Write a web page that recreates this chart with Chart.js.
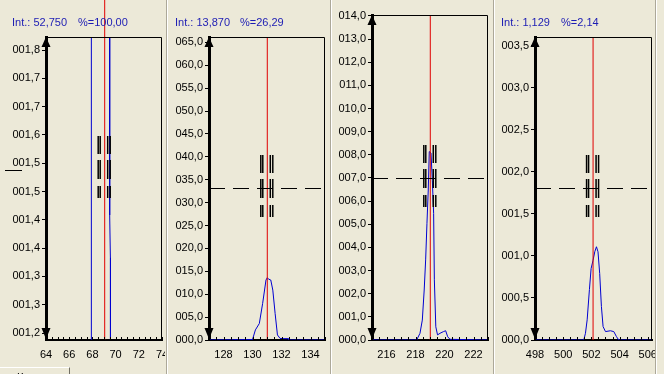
<!DOCTYPE html>
<html>
<head>
<meta charset="utf-8">
<script src="https://cdn.jsdelivr.net/npm/chart.js@4.4.1/dist/chart.umd.min.js"></script>
<style>
    body { margin: 0; width: 664px; height: 374px; background: #ece9d8; overflow: hidden; position: relative; font-family: "Liberation Sans", Arial, sans-serif; }
    canvas { position: absolute; top: 0; }
    .sep { position: absolute; top: 0; width: 1px; height: 374px; background: #aca899; box-shadow: 1px 0 0 #fff; }
    .tab { position: absolute; left: -2px; top: 367px; width: 71px; height: 20px; border-top: 1px solid #fff; border-right: 1px solid #716f64; font-size: 11px; }
    .tab span { position: absolute; left: 19px; top: 3px; }
</style>
</head>
<body>
<canvas id="p1" width="165" height="374" style="left:0"></canvas>
<div class="sep" style="left:166px"></div>
<canvas id="p2" width="162" height="374" style="left:167px"></canvas>
<div class="sep" style="left:330px"></div>
<canvas id="p3" width="161" height="374" style="left:331px"></canvas>
<div class="sep" style="left:493px"></div>
<canvas id="p4" width="161" height="374" style="left:494px"></canvas>
<div class="sep" style="left:655px"></div>
<div class="tab"><span>К</span></div>

<script>
// ---- panel 1: m/z 64..74 (zoomed intensity window) ----
const p1X = [64, 67.9, 67.91, 69.46, 69.49, 69.55, 69.56, 74];
const p1Y = [0, 0, 60, 60, 1.45, 1.36, 0, 0];
const p1YTicks = [1.2, 1.26, 1.32, 1.38, 1.44, 1.5, 1.56, 1.62, 1.68, 1.74, 1.8];
const p1YLabels = ['001,2', '001,3', '001,3', '001,4', '001,4', '001,5', '001,5', '001,6', '001,7', '001,7', '001,8'];
const p1XTicks = [64, 66, 68, 70, 72, 74];
const p1Header = ['Int.: 52,750', '%=100,00'];

// ---- panel 2: m/z 127..135 ----
const p2X = [127, 130.0, 130.2, 130.47, 130.7, 130.93, 131.02, 131.1, 131.26, 131.4, 131.56, 131.72, 131.9, 132.1, 132.47, 132.5, 135];
const p2Y = [0, 0.1, 2.2, 3.6, 8.0, 13.1, 13.6, 13.3, 13.1, 10.9, 5.8, 1.1, 0.35, 0.3, 0.3, 0, 0];
const p2YTicks = [0, 5, 10, 15, 20, 25, 30, 35, 40, 45, 50, 55, 60, 65];
const p2XTicks = [128, 130, 132, 134];
const p2Header = ['Int.: 13,870', '%=26,29'];

// ---- panel 3: m/z 215..223 ----
const p3X = [215, 218.08, 218.31, 218.47, 218.6, 218.7, 218.79, 218.88, 218.95, 219.07, 219.16, 219.25, 219.3, 219.4, 219.52, 219.69, 219.92, 220.08, 220.22, 220.38, 223];
const p3Y = [0, 0, 0.29, 0.86, 2.16, 3.46, 5.04, 6.48, 8.14, 8.08, 6.9, 5.47, 2.6, 0.57, 0.22, 0.29, 0.36, 0.4, 0.14, 0.03, 0];
const p3YTicks = [0, 1, 2, 3, 4, 5, 6, 7, 8, 9, 10, 11, 12, 13, 14];
const p3XTicks = [216, 218, 220, 222];

// ---- panel 4: m/z 498..506 ----
const p4X = [498, 501.46, 501.58, 501.7, 501.86, 501.98, 502.12, 502.24, 502.36, 502.47, 502.59, 502.71, 502.83, 503.0, 503.35, 503.59, 503.78, 503.94, 506.3];
const p4Y = [0, 0, 0.08, 0.24, 0.6, 0.85, 0.95, 1.05, 1.11, 1.05, 0.79, 0.4, 0.16, 0.1, 0.11, 0.1, 0.04, 0, 0];
const p4YTicks = [0, 0.5, 1, 1.5, 2, 2.5, 3, 3.5];
const p4XTicks = [498, 500, 502, 504, 506];
const p4Header = ['Int.: 1,129', '%=2,14'];

const FONT = '"Liberation Sans", Arial, sans-serif';

function fmt(v) {
    return v.toFixed(1).replace('.', ',').padStart(5, '0');
}

// crosshair / axis decorations drawn on top of the chart
const decoPlugin = {
    id: 'deco',
    afterDatasetsDraw(chart) {
        const o = chart.options.plugins.deco;
        const ctx = chart.ctx;
        const a = chart.chartArea;
        const sx = chart.scales.x, sy = chart.scales.y;
        const cx = sx.getPixelForValue(o.cursorX);
        const cy = Math.round(sy.getPixelForValue(o.cursorY));
        ctx.save();
        ctx.strokeStyle = '#000';
        ctx.fillStyle = '#000';

        // top and right frame
        ctx.lineWidth = 1;
        ctx.beginPath();
        ctx.moveTo(a.left, a.top + 0.5);
        ctx.lineTo(a.right - 0.5, a.top + 0.5);
        ctx.lineTo(a.right - 0.5, a.bottom);
        ctx.stroke();

        // dashed horizontal cursor line
        if (o.dashed) {
            ctx.setLineDash([16, 8]);
            ctx.beginPath();
            ctx.moveTo(a.left, cy + 0.5);
            ctx.lineTo(a.right, cy + 0.5);
            ctx.stroke();
            ctx.setLineDash([]);
        }

        // minor ticks on x axis
        sx.ticks.forEach(t => {
            const px = Math.round(sx.getPixelForValue(t.value)) + 0.5;
            ctx.beginPath();
            ctx.moveTo(px, a.bottom);
            ctx.lineTo(px, a.bottom - 3);
            ctx.stroke();
        });

        // arrows on the y axis
        const ax = a.left;
        ctx.beginPath();
        ctx.moveTo(ax, a.top);
        ctx.lineTo(ax - 4.5, a.top + 10);
        ctx.lineTo(ax + 4.5, a.top + 10);
        ctx.closePath();
        ctx.fill();
        ctx.beginPath();
        ctx.moveTo(ax, a.bottom - 1);
        ctx.lineTo(ax - 4.5, a.bottom - 12);
        ctx.lineTo(ax + 4.5, a.bottom - 12);
        ctx.closePath();
        ctx.fill();

        // cursor glyph
        ctx.lineWidth = 1.5;
        [[-33, -15], [-9, 10], [17, 29]].forEach(r => {
            [-6.5, -4.5, 3, 5.5].forEach(dx => {
                ctx.beginPath();
                ctx.moveTo(cx + dx, cy + r[0]);
                ctx.lineTo(cx + dx, cy + r[1]);
                ctx.stroke();
            });
        });
        if (o.stub) {
            ctx.lineWidth = 1;
            ctx.beginPath();
            ctx.moveTo(5, cy + 1.5);
            ctx.lineTo(22, cy + 1.5);
            ctx.stroke();
        }

        // header
        if (o.header) {
            ctx.fillStyle = '#1c1cb4';
            ctx.font = '11px ' + FONT;
            ctx.textBaseline = 'middle';
            ctx.fillText(o.header[0], o.headerX[0], 23);
            ctx.fillText(o.header[1], o.headerX[1], 23);
        }
        ctx.restore();
    }
};

function makePanel(p) {
    const canvas = document.getElementById(p.id);
    const datasets = [
        {
            data: [{ x: p.cursorX, y: p.yMin }, { x: p.cursorX, y: p.redTop }],
            borderColor: '#e00000', borderWidth: 1, clip: p.redClip
        },
        {
            data: p.xs.map((x, i) => ({ x: x, y: p.ys[i] })),
            borderColor: '#0000d0', borderWidth: 1
        }
    ];
    new Chart(canvas.getContext('2d'), {
        type: 'line',
        data: { datasets: datasets },
        options: {
            responsive: false,
            animation: false,
            elements: { point: { radius: 0 }, line: { tension: 0 } },
            layout: { padding: { left: 0, right: canvas.width - p.right, top: p.top, bottom: 0 } },
            plugins: {
                legend: { display: false },
                tooltip: { enabled: false },
                deco: { cursorX: p.cursorX, cursorY: p.cursorY, dashed: p.dashed, header: p.header, headerX: p.headerX, stub: p.stub }
            },
            scales: {
                x: {
                    type: 'linear', min: p.xMin, max: p.xMax,
                    border: { color: '#000', width: 2 },
                    grid: { drawOnChartArea: false, drawTicks: false },
                    ticks: {
                        color: '#000', font: { family: FONT, size: 11 }, padding: 8,
                        autoSkip: false, maxRotation: 0,
                        callback: v => p.xTicks.some(t => Math.abs(t - v) < 1e-6) ? String(Math.round(v)) : ''
                    },
                    afterBuildTicks: s => {
                        const out = [];
                        for (let v = Math.ceil(p.xMin * 2) / 2; v <= p.xMax + 1e-9; v += 0.5) out.push({ value: v });
                        s.ticks = out;
                    },
                    afterFit: s => { s.height = 374 - 340; s.paddingLeft = 0; s.paddingRight = 0; }
                },
                y: {
                    type: 'linear', min: p.yMin, max: p.yMax,
                    border: { color: '#000', width: 3 },
                    grid: { drawOnChartArea: false, drawTicks: true, tickLength: 4, color: '#000' },
                    ticks: {
                        color: '#000', font: { family: FONT, size: 11 }, padding: 2,
                        callback: (v, i) => p.yLabels ? p.yLabels[i] : fmt(v)
                    },
                    afterBuildTicks: s => { s.ticks = p.yTicks.map(v => ({ value: v })); },
                    afterFit: s => { s.width = p.left; s.paddingTop = 0; s.paddingBottom = 0; }
                }
            }
        },
        plugins: [decoPlugin]
    });
}

makePanel({
    id: 'p1', left: 46, right: 162, top: 37,
    xs: p1X, ys: p1Y, xMin: 64, xMax: 74, yMin: 1.1852, yMax: 1.8276,
    yTicks: p1YTicks, yLabels: p1YLabels, xTicks: p1XTicks,
    cursorX: 69.06, cursorY: 1.548, redTop: 1.91, redClip: false, dashed: false, stub: true,
    header: p1Header, headerX: [12, 78]
});
makePanel({
    id: 'p2', left: 42, right: 158, top: 37,
    xs: p2X, ys: p2Y, xMin: 127, xMax: 135, yMin: 0, yMax: 66.16,
    yTicks: p2YTicks, xTicks: p2XTicks,
    cursorX: 131.02, cursorY: 33.2, redTop: 66.16, redClip: undefined, dashed: true,
    header: p2Header, headerX: [8, 73]
});
makePanel({
    id: 'p3', left: 41, right: 157, top: 15,
    xs: p3X, ys: p3Y, xMin: 215, xMax: 223, yMin: 0, yMax: 14.04,
    yTicks: p3YTicks, xTicks: p3XTicks,
    cursorX: 219.02, cursorY: 7.0, redTop: 14.04, redClip: undefined, dashed: true
});
makePanel({
    id: 'p4', left: 41, right: 158, top: 37,
    xs: p4X, ys: p4Y, xMin: 498, xMax: 506.3, yMin: 0, yMax: 3.607,
    yTicks: p4YTicks, xTicks: p4XTicks,
    cursorX: 502.12, cursorY: 1.81, redTop: 3.607, redClip: undefined, dashed: true,
    header: p4Header, headerX: [7, 67]
});
</script>
</body>
</html>
